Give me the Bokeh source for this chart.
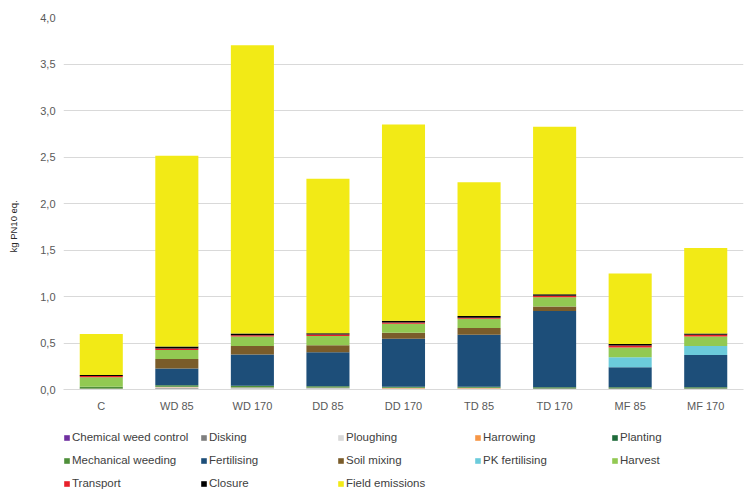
from bokeh.plotting import figure
from bokeh.layouts import column
from bokeh.models import (ColumnDataSource, FactorRange, Range1d, Legend, LegendItem,
                          Title, CustomJSTickFormatter, FixedTicker)
from bokeh.embed import file_html
from bokeh.resources import INLINE

categories = ["C", "WD 85", "WD 170", "DD 85", "DD 170", "TD 85", "TD 170", "MF 85", "MF 170"]

chemical_weed_control = [0.002, 0.002, 0.002, 0.002, 0.002, 0.002, 0.002, 0.002, 0.002]
disking               = [0.000, 0.012, 0.010, 0.008, 0.006, 0.006, 0.004, 0.004, 0.004]
ploughing             = [0.004, 0.009, 0.007, 0.006, 0.004, 0.004, 0.003, 0.003, 0.003]
harrowing             = [0.003, 0.003, 0.003, 0.003, 0.003, 0.003, 0.003, 0.003, 0.003]
planting              = [0.003, 0.003, 0.003, 0.003, 0.003, 0.003, 0.003, 0.003, 0.003]
mechanical_weeding    = [0.017, 0.018, 0.015, 0.014, 0.012, 0.012, 0.010, 0.010, 0.010]
fertilising           = [0.000, 0.180, 0.336, 0.364, 0.515, 0.558, 0.818, 0.215, 0.345]
soil_mixing           = [0.000, 0.100, 0.091, 0.077, 0.065, 0.072, 0.049, 0.000, 0.000]
pk_fertilising        = [0.000, 0.000, 0.000, 0.000, 0.000, 0.000, 0.000, 0.108, 0.097]
harvest               = [0.104, 0.097, 0.103, 0.097, 0.097, 0.100, 0.100, 0.104, 0.103]
transport             = [0.012, 0.017, 0.012, 0.017, 0.013, 0.011, 0.017, 0.021, 0.018]
closure               = [0.012, 0.022, 0.020, 0.015, 0.019, 0.018, 0.015, 0.015, 0.014]
field_emissions       = [0.440, 2.050, 3.100, 1.660, 2.110, 1.440, 1.800, 0.760, 0.920]

series_names = ["Chemical weed control", "Disking", "Ploughing", "Harrowing", "Planting",
                "Mechanical weeding", "Fertilising", "Soil mixing", "PK fertilising",
                "Harvest", "Transport", "Closure", "Field emissions"]
series_values = [chemical_weed_control, disking, ploughing, harrowing, planting,
                 mechanical_weeding, fertilising, soil_mixing, pk_fertilising,
                 harvest, transport, closure, field_emissions]
colors = ["#7030A0", "#7F7F7F", "#D9D9D9", "#F79646", "#1E6B3A",
          "#4E8F3A", "#1D4E79", "#7A5C2A", "#6BCBDB",
          "#92C952", "#E8202A", "#000000", "#F2EA16"]
y_ticks = [0.0, 0.5, 1.0, 1.5, 2.0, 2.5, 3.0, 3.5, 4.0]

keys = [f"s{i}" for i in range(len(series_names))]
data = {"cat": categories}
for k, v in zip(keys, series_values):
    data[k] = v
source = ColumnDataSource(data)

FONT = "Liberation Sans"

p = figure(x_range=FactorRange(*categories), y_range=Range1d(0, 4.0),
           width=745, height=420, output_backend="svg", toolbar_location=None,
           min_border_left=63, min_border_right=2, min_border_top=17, min_border_bottom=31)
p.outline_line_color = None
p.background_fill_color = "white"
p.border_fill_color = "white"

renderers = p.vbar_stack(keys, x="cat", width=0.57, color=colors, source=source, line_color=None)

p.xgrid.visible = False
p.ygrid.grid_line_color = "#D9D9D9"
p.ygrid.grid_line_width = 1

p.yaxis.ticker = FixedTicker(ticks=y_ticks)
p.yaxis.formatter = CustomJSTickFormatter(code="return tick.toFixed(1).replace('.', ',');")
p.yaxis.axis_line_color = None
p.yaxis.major_tick_line_color = None
p.yaxis.minor_tick_line_color = None
p.yaxis.major_tick_out = 0
p.yaxis.major_label_standoff = 8
p.yaxis.major_label_text_font = FONT
p.yaxis.major_label_text_font_size = "11px"
p.yaxis.major_label_text_color = "#595959"

p.xaxis.axis_line_color = "#D9D9D9"
p.xaxis.major_tick_line_color = None
p.xaxis.minor_tick_line_color = None
p.xaxis.major_tick_out = 0
p.xaxis.major_label_standoff = 10
p.xaxis.major_label_text_font = FONT
p.xaxis.major_label_text_font_size = "11px"
p.xaxis.major_label_text_color = "#595959"

# spacer between tick labels and the axis title
p.add_layout(Title(text=" ", text_font=FONT, text_font_size="10px", standoff=6), "left")
ytitle = Title(text="kg PN10 eq.", align="left", offset=137, standoff=0,
               text_font=FONT, text_font_size="9.5px", text_font_style="normal",
               text_color="#262626")
p.add_layout(ytitle, "left")

# legend panel (separate figure below the chart; swatches only)
lf = figure(width=745, height=75, output_backend="svg", toolbar_location=None,
            x_range=Range1d(0, 1), y_range=Range1d(0, 1),
            x_axis_type=None, y_axis_type=None, min_border=0)
lf.outline_line_color = None
lf.grid.visible = False
swatches = [lf.vbar(x=[0], top=[0], bottom=[0], width=0.0, fill_color=c, line_color=None)
            for c in colors]
items = [LegendItem(label=n, renderers=[r]) for n, r in zip(series_names, swatches)]
legend = Legend(items=items, ncols=5, orientation="horizontal", location=(0, 3.5),
                glyph_width=7, glyph_height=7, label_standoff=2, label_width=122,
                label_height=17, spacing=6, padding=0, margin=0,
                label_text_font=FONT, label_text_font_size="11.5px", label_text_color="#404040",
                background_fill_alpha=0, border_line_color=None)
lf.add_layout(legend, "center")

layout = column(p, lf, spacing=0)
open("out.html", "w").write(file_html(layout, INLINE))
